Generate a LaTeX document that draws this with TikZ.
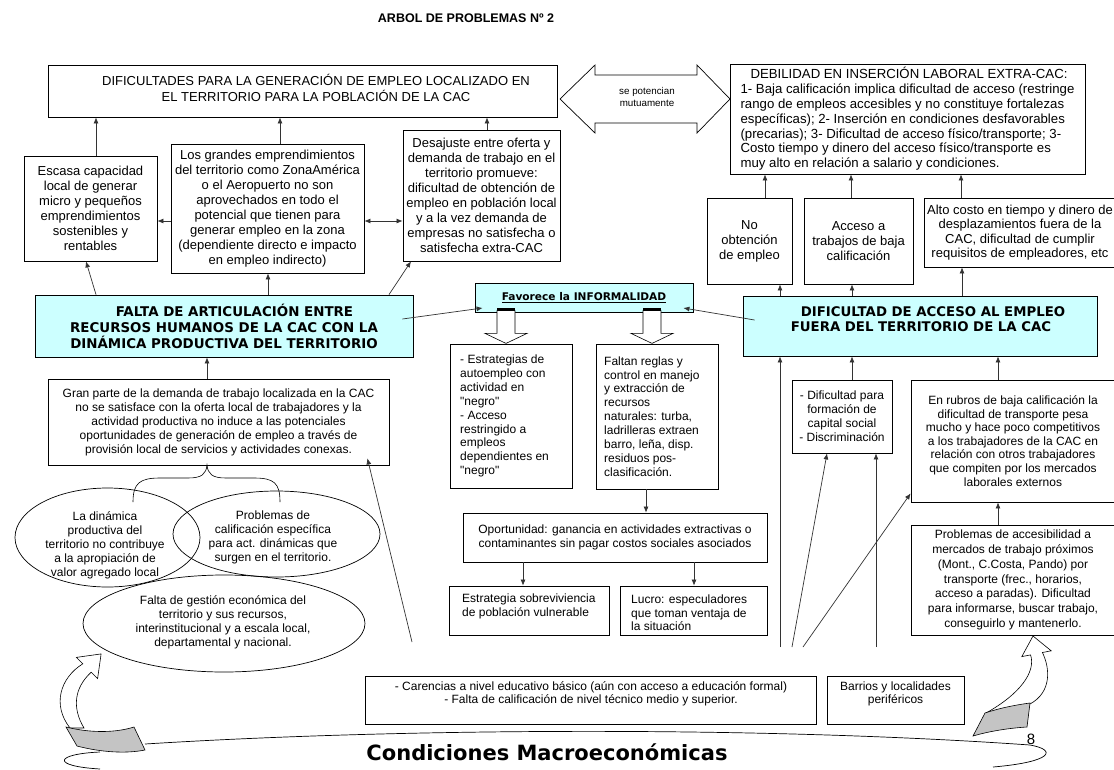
\documentclass[tikz,border=0pt]{standalone}
\usepackage{fontspec}
\setmainfont{Liberation Sans}
\newfontfamily\headfont{DejaVu Sans}
\usetikzlibrary{arrows.meta,calc,shapes.geometric}
\definecolor{paleCyan}{HTML}{CCFFFF}
\definecolor{tailGray}{HTML}{C4C4C4}
\newcommand\setfs[2]{\fontsize{#1}{#2}\selectfont}
% hollow downward block arrow hanging from a point
\newcommand\downblock[1]{%
  \draw[line width=0.6pt, fill=white] ($(#1)+(-9,0)$) -- ++(0,23) -- ++(-12,0) -- ++(21,10) -- ++(21,-10) -- ++(-12,0) -- ++(0,-23);
  \draw[line width=2.2pt] ($(#1)+(-9,-1)$) -- ++(18,0);}

\begin{document}
\begin{tikzpicture}[x=1pt,y=-1pt,
  >={Latex[length=6pt,width=5pt]},
  every node/.style={inner sep=0pt},
  box/.style={draw, line width=0.8pt, align=center},
  big/.style={font=\setfs{13}{15}},
  small/.style={font=\setfs{12}{14}},
  cbox/.style={box, fill=paleCyan, font=\headfont\bfseries\setfs{13.4}{16}},
  conn/.style={->, line width=0.7pt, draw=black!80},
  dconn/.style={<->, line width=0.7pt, draw=black!80},
  oval/.style={draw, ellipse, line width=0.7pt},
]
\fill[white] (0,0) rectangle (1114,769);
\path[use as bounding box] (0,0) rectangle (1114,769);
\clip (0,0) rectangle (1114,769);

% ---------- title ----------
\node[font=\bfseries\setfs{12.5}{15}] (title) at (466,18) {ARBOL DE PROBLEMAS Nº 2};

% ---------- top row ----------
\node[box, minimum width=509, minimum height=52] (A) at (302.5,91) {};
\node[font=\setfs{13}{16}, align=center] (At) at (316,88) {DIFICULTADES PARA LA GENERACIÓN DE EMPLEO LOCALIZADO EN\\EL TERRITORIO PARA LA POBLACIÓN DE LA CAC};

\draw[line width=0.7pt, fill=white] (560,99) -- (595,65) -- (595,75) -- (697,75) -- (697,65) -- (730,99)
  -- (697,133) -- (697,123) -- (595,123) -- (595,133) -- cycle;
\node[font=\setfs{9.8}{12.5}, align=center] (mut) at (647,97) {se potencian\\mutuamente};

\node[box, minimum width=355, minimum height=110, align=left, font=\setfs{13.2}{14.8}] (B) at (907.5,119)
 {\hspace*{10pt}DEBILIDAD EN INSERCIÓN LABORAL EXTRA-CAC:\\
  1- Baja calificación implica dificultad de acceso (restringe\\
  rango de empleos accesibles y no constituye fortalezas\\
  específicas); 2- Inserción en condiciones desfavorables\\
  (precarias); 3- Dificultad de acceso físico/transporte; 3-\\
  Costo tiempo y dinero del acceso físico/transporte es\\
  muy alto en relación a salario y condiciones.};

% ---------- second row, left ----------
\node[box, big, minimum width=133, minimum height=105] (C) at (90.5,208.5)
 {Escasa capacidad\\local de generar\\micro y pequeños\\emprendimientos\\sostenibles y\\rentables};
\node[box, big, minimum width=193, minimum height=129] (D) at (267.5,208.5)
 {Los grandes emprendimientos\\del territorio como ZonaAmérica\\o el Aeropuerto no son\\aprovechados en todo el\\potencial que tienen para\\generar empleo en la zona\\(dependiente directo e impacto\\en empleo indirecto)};
\node[box, big, minimum width=157, minimum height=131] (E) at (481.5,195.5)
 {Desajuste entre oferta y\\demanda de trabajo en el\\territorio promueve:\\dificultad de obtención de\\empleo en población local\\y a la vez demanda de\\empresas no satisfecha o\\satisfecha extra-CAC};

% ---------- second row, right ----------
\node[box, big, minimum width=85, minimum height=86] (H1) at (749.5,241) {No\\obtención\\de empleo};
\node[box, big, minimum width=109, minimum height=86] (H2) at (858.5,241) {Acceso a\\trabajos de baja\\calificación};
\node[box, font=\setfs{13}{14.5}, minimum width=192, minimum height=69] (H3) at (1020,232.5)
 {Alto costo en tiempo y dinero de\\desplazamientos fuera de la\\CAC, dificultad de cumplir\\requisitos de empleadores, etc};

% ---------- central problems ----------
\node[cbox, minimum width=378, minimum height=62] (F) at (224,326)
 {\hspace*{21pt}FALTA DE ARTICULACIÓN ENTRE\\RECURSOS HUMANOS DE LA CAC CON LA\\DINÁMICA PRODUCTIVA DEL TERRITORIO};
\node[box, fill=paleCyan, minimum width=218, minimum height=29, font=\headfont\bfseries\setfs{10.6}{12}] (I) at (584,297.5)
 {\underline{Favorece la INFORMALIDAD}};
\node[cbox, minimum width=354, minimum height=60] (G2) at (920,326) {};
\node[font=\headfont\bfseries\setfs{13.3}{15}, align=center] (G2t) at (921,319.5)
 {\hspace*{24pt}DIFICULTAD DE ACCESO AL EMPLEO\\FUERA DEL TERRITORIO DE LA CAC};

% ---------- causes, left ----------
\node[box, small, minimum width=341, minimum height=86] (G) at (218.5,422)
 {Gran parte de la demanda de trabajo localizada en la CAC\\no se satisface con la oferta local de trabajadores y la\\actividad productiva no induce a las potenciales\\oportunidades de generación de empleo a través de\\provisión local de servicios y actividades conexas.};

\node[oval, minimum width=185, minimum height=99] (E1) at (107.5,537.5) {};
\node[small, align=center] (E1t) at (105,545) {La dinámica\\productiva del\\territorio no contribuye\\a la apropiación de\\valor agregado local};
\node[oval, minimum width=207, minimum height=86] (E2) at (276.5,534) {};
\node[small, align=center] (E2t) at (273,537) {Problemas de\\calificación específica\\para act. dinámicas que\\surgen en el territorio.};
\node[oval, minimum width=282, minimum height=97] (E3) at (224,623.5) {};
\node[small, align=center] (E3t) at (223,622) {Falta de gestión económica del\\territorio y sus recursos,\\interinstitucional y a escala local,\\departamental y nacional.};

% brace grouping the ovals under the box above
\draw[line width=0.6pt] (133,502) .. controls (133,483) and (140,478) .. (160,478) -- (188,478)
  .. controls (202,478) and (206,474) .. (207,465)
  .. controls (208,474) and (212,478) .. (226,478) -- (254,478)
  .. controls (274,478) and (280,483) .. (280,502);

% ---------- informality branch ----------
\node[box, minimum width=122, minimum height=144] (J) at (511,416) {};
\node[small, align=left, anchor=west, font=\setfs{12}{13.9}] (Jt) at (460,416)
 {- Estrategias de\\autoempleo con\\actividad en\\\textquotedbl{}negro\textquotedbl\\- Acceso\\restringido a\\empleos\\dependientes en\\\textquotedbl{}negro\textquotedbl};
\node[box, minimum width=122, minimum height=145] (K) at (657,416.5) {};
\node[small, align=left, anchor=west, font=\setfs{12}{13.9}] (Kt) at (604,416.5)
 {Faltan reglas y\\control en manejo\\y extracción de\\recursos\\naturales: turba,\\ladrilleras extraen\\barro, leña, disp.\\residuos pos-\\clasificación.};
\node[box, small, minimum width=304, minimum height=49] (L) at (615,537.5)
 {Oportunidad: ganancia en actividades extractivas o\\contaminantes sin pagar costos sociales asociados};
\node[box, minimum width=160, minimum height=49] (M) at (529,610.5) {};
\node[small, align=left, anchor=west, font=\setfs{12}{13.5}] (Mt) at (462,606.5) {Estrategia sobreviviencia\\de población vulnerable};
\node[box, minimum width=147, minimum height=49] (N) at (693.5,610.5) {};
\node[small, align=left, anchor=west, font=\setfs{12}{13.5}] (Nt) at (631,613) {Lucro: especuladores\\que toman ventaja de\\la situación};

% ---------- causes, right ----------
\node[box, small, minimum width=100, minimum height=73] (P) at (842,416.5) {- Dificultad para\\formación de\\capital social\\- Discriminación};
\node[box, font=\setfs{12}{13.6}, minimum width=204, minimum height=122] (Q) at (1013,441)
 {En rubros de baja calificación la\\dificultad de transporte pesa\\mucho y hace poco competitivos\\a los trabajadores de la CAC en\\relación con otros trabajadores\\que compiten por los mercados\\laborales externos};
\node[box, font=\setfs{12}{14.8}, minimum width=204, minimum height=110] (R) at (1013,580)
 {Problemas de accesibilidad a\\mercados de trabajo próximos\\(Mont., C.Costa, Pando) por\\transporte (frec., horarios,\\acceso a paradas). Dificultad\\para informarse, buscar trabajo,\\conseguirlo y mantenerlo.};

% ---------- base causes ----------
\node[box, minimum width=451, minimum height=48] (S) at (590.5,700) {};
\node[font=\setfs{12}{13}, align=center] (St) at (591,693.5)
 {- Carencias a nivel educativo básico (aún con acceso a educación formal)\\- Falta de calificación de nivel técnico medio y superior.};
\node[box, minimum width=137, minimum height=48] (T) at (895.5,700) {};
\node[font=\setfs{12}{13}, align=center] (Tt) at (895.5,693.5) {Barrios y localidades\\periféricos};

% ---------- connectors, top left ----------
\coordinate (c1) at ($(C.north)+(5.5,0)$);
\draw[conn] (c1) -- (c1 |- A.south);
\coordinate (d1) at ($(D.north)+(12.5,0)$);
\draw[conn] (d1) -- (d1 |- A.south);
\coordinate (e1) at ($(E.north)+(5.5,0)$);
\draw[conn] (e1) -- (e1 |- A.south);
\coordinate (d2) at ($(D.west)+(0,12.5)$);
\draw[conn] (d2) -- (d2 -| C.east);
\coordinate (d3) at ($(D.east)+(0,12.5)$);
\draw[dconn] (d3) -- (d3 -| E.west);

\draw[conn] ($(F.north)+(-128,0)$) -- ($(C.south)+(-4.5,0)$);
\coordinate (f2) at ($(F.north)+(44,0)$);
\draw[conn] (f2) -- (f2 |- D.south);
\draw[conn] ($(F.north)+(165,0)$) -- ($(E.south)+(-70.5,0)$);
\coordinate (g1) at ($(G.north)+(-11.5,0)$);
\draw[conn] (g1) -- (g1 |- F.south);

% ---------- connectors, informality ----------
\draw[conn] ($(F.east)+(-11,-7)$) -- ($(I.west)+(8,10.5)$);
\draw[conn] ($(G2.west)+(12,-6)$) -- ($(I.east)+(-10,10.5)$);
\coordinate (ba1) at ($(I.south)+(-78,-2)$);
\coordinate (ba2) at ($(I.south)+(68,-2)$);
\downblock{ba1}
\downblock{ba2}
\coordinate (k1) at ($(K.south)+(-11,0)$);
\draw[conn] (k1) -- (k1 |- L.north);
\coordinate (l1) at ($(L.south)+(-92,0)$);
\draw[conn] (l1) -- (l1 |- M.north);
\coordinate (l2) at ($(L.south)+(79,0)$);
\draw[conn] (l2) -- (l2 |- N.north);

% ---------- connectors, right ----------
\coordinate (gh1) at ($(G2.north)+(-140,0)$);
\draw[conn] (gh1) -- (gh1 |- H1.south);
\coordinate (gh2) at ($(G2.north)+(-68,0)$);
\draw[conn] (gh2) -- (gh2 |- H2.south);
\coordinate (gh3) at ($(G2.north)+(42,0)$);
\draw[conn] (gh3) -- (gh3 |- H3.south);
\coordinate (hb1) at ($(H1.north)+(15.5,0)$);
\draw[conn] (hb1) -- (hb1 |- B.south);
\coordinate (hb2) at ($(H2.north)+(-7.5,0)$);
\draw[conn] (hb2) -- (hb2 |- B.south);
\coordinate (hb3) at ($(H3.north)+(-59,0)$);
\draw[conn] (hb3) -- (hb3 |- B.south);
\coordinate (p1) at ($(P.north)+(10,0)$);
\draw[conn] (p1) -- (p1 |- G2.south);
\coordinate (q1) at ($(Q.north)+(-15,0)$);
\draw[conn] (q1) -- (q1 |- G2.south);
\coordinate (r1) at ($(R.north)+(-15,0)$);
\draw[conn] (r1) -- (r1 |- Q.south);

% ---------- long rising lines from the base ----------
\coordinate (v1) at (780,647);
\draw[conn] (v1) -- (v1 |- G2.south);
\coordinate (v2) at (876,647);
\draw[conn] (v2) -- (v2 |- P.south);
\coordinate (v3) at (792,647);
\draw[conn] (v3) -- ($(P.south)+(-15,0)$);
\coordinate (v4) at (803,647);
\draw[conn] (v4) -- ($(Q.south west)+(0,-9)$);
\coordinate (v5) at (412,642);
\draw[conn] (v5) -- ($(G.south east)+(-22,-7)$);

% ---------- macroeconomic ribbon ----------
\draw[line width=0.7pt] (145,744) .. controls (400,728) and (760,726) .. (1030,745)
  .. controls (1058,750) and (1052,762) .. (993,767);
\draw[line width=0.7pt] (100,752) .. controls (55,754) and (50,766) .. (100,769);
\node[font=\headfont\bfseries\setfs{21}{24}] (macro) at (547,752) {Condiciones Macroeconómicas};

% left curved arrow rising from the ribbon
\draw[line width=0.6pt, fill=white] (70,728) .. controls (52,705) and (60,678) .. (82.8,663.8)
  -- (76.4,657.4) -- (101.1,653.9) -- (97.6,678.6) -- (91.2,672.2)
  .. controls (74,688) and (72,708) .. (84,728) -- cycle;
\draw[line width=0.6pt, fill=tailGray] (66,727) .. controls (90,733) and (115,733) .. (134,727)
  -- (145,750) .. controls (125,754) and (100,752) .. (77,746) -- cycle;

% right curved arrow rising from the ribbon
\draw[line width=0.6pt, fill=white] (1030,704) .. controls (1052,692) and (1050,668) .. (1042.4,652.5)
  -- (1051.2,650.8) -- (1033,636) -- (1021.8,656.6) -- (1030.6,654.9)
  .. controls (1036,672) and (1020,694) .. (986,713) -- cycle;
\draw[line width=0.6pt, fill=tailGray] (985,713) .. controls (1000,708) and (1015,705) .. (1030,703)
  -- (1027,727) .. controls (1010,728) and (990,731) .. (973,736) -- cycle;

\node[font=\setfs{15}{15}] (pg) at (1031,739) {8};
\end{tikzpicture}
\end{document}
